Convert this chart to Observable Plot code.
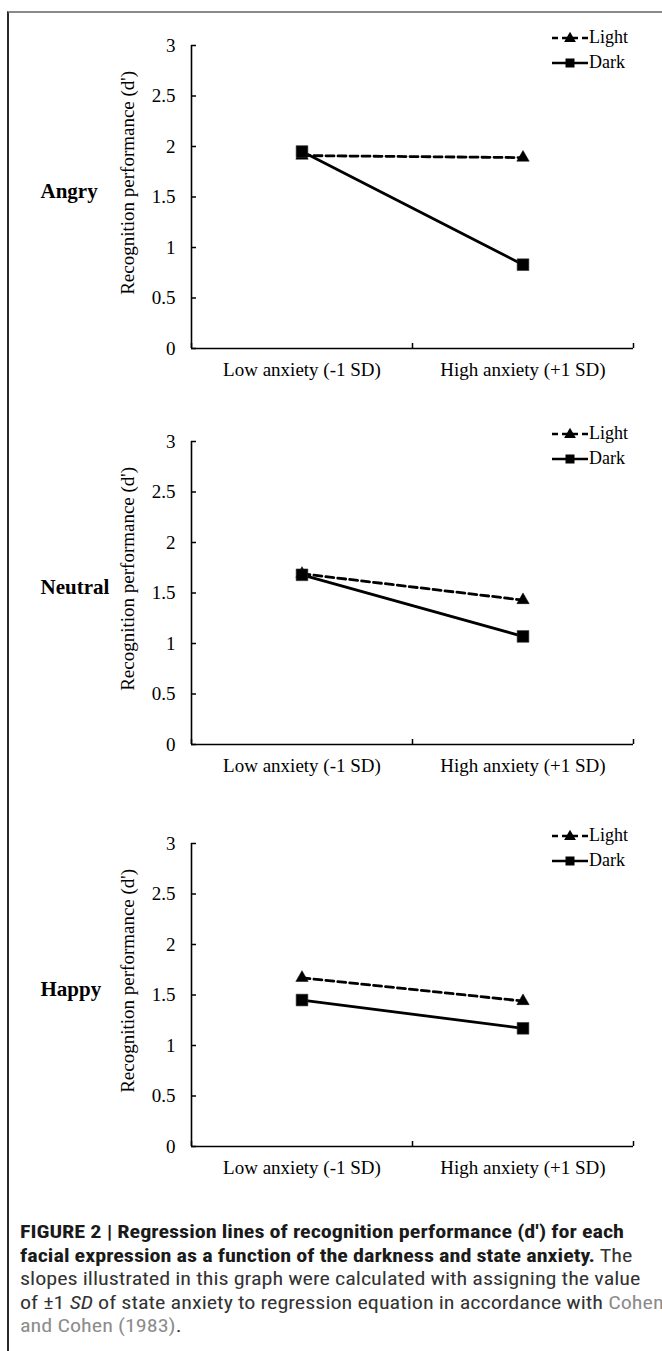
<!DOCTYPE html>
<html><head><meta charset="utf-8">
<script src="https://cdn.jsdelivr.net/npm/d3@7"></script>
<script src="https://cdn.jsdelivr.net/npm/@observablehq/plot@0.6"></script>
<style>
body{margin:0;background:#fff;width:662px;height:1351px;overflow:hidden;position:relative;}
#frame{position:absolute;left:7px;top:11px;width:700px;height:1400px;border-left:2px solid #2a2a2a;border-top:2px solid #8a8a8a;}
.panel{position:absolute;left:0;}
.legend{position:absolute;font-family:"Liberation Serif","Times New Roman",serif;font-size:18px;color:#000;}
.legend .row{display:flex;align-items:center;height:25px;}
#caption{position:absolute;left:20px;top:1220px;font-family:"Liberation Sans Narrow","Roboto Condensed","Arial Narrow",Roboto,"Liberation Sans",sans-serif;font-size:19px;line-height:23.5px;color:#333;white-space:nowrap;transform-origin:0 0;}
#caption b{color:#1a1a1a;}
#caption .ref{color:#8c8c8c;}
</style></head><body>
<div id="frame"></div>
<div id="root"></div>
<div id="caption">
<div id="cap1"><b>FIGURE 2 | Regression lines of recognition performance (d′) for each</b></div>
<div><b>facial expression as a function of the darkness and state anxiety.</b> The</div>
<div>slopes illustrated in this graph were calculated with assigning the value</div>
<div>of ±1 <i>SD</i> of state anxiety to regression equation in accordance with <span class="ref">Cohen</span></div>
<div><span class="ref">and Cohen (1983)</span>.</div>
</div>
<script>
// ---- data ----
const categories = ["Low anxiety (-1 SD)", "High anxiety (+1 SD)"];
const expressions = ["Angry", "Neutral", "Happy"];
const seriesNames = ["Light", "Dark"];
const lightValues = [[1.91, 1.89], [1.69, 1.43], [1.67, 1.44]];
const darkValues = [[1.95, 0.83], [1.68, 1.07], [1.45, 1.17]];
const yTicks = [0, 0.5, 1, 1.5, 2, 2.5, 3];
const yLabel = "Recognition performance (d')";

// ---- layout ----
const W = 662, H = 396, MT = 45, MB = 48, ML = 191, MR = 29;
const panelTops = [0, 396, 798];
const labelY = 1.56, titleY = 1.64;
const root = document.getElementById("root");

expressions.forEach((expr, i) => {
  const light = categories.map((c, j) => ({series: seriesNames[0], xi: j + 0.5, v: lightValues[i][j]}));
  const dark = categories.map((c, j) => ({series: seriesNames[1], xi: j + 0.5, v: darkValues[i][j]}));
  const plotH = H - MT - MB, plotW = W - ML - MR;
  const chart = Plot.plot({
    width: W, height: H, marginTop: MT, marginBottom: MB, marginLeft: ML, marginRight: MR,
    style: {fontFamily: "'Liberation Serif','Times New Roman',serif", fontSize: "19px", color: "#000", background: "transparent", overflow: "visible"},
    x: {type: "linear", domain: [0, categories.length]},
    y: {domain: [0, 3]},
    marks: [
      Plot.axisY({ticks: yTicks, tickFormat: d => String(d), tickSize: 0, tickPadding: 16, label: null, fontSize: 19}),
      Plot.axisX({ticks: categories.map((_, j) => j + 0.5), tickFormat: d => categories[Math.floor(d)], tickSize: 0, tickPadding: 14, label: null, fontSize: 19}),
      Plot.tickY(yTicks, {y: d => d, insetRight: plotW - 5, stroke: "#000", strokeWidth: 1.5}),
      Plot.tickX(d3.range(categories.length + 1), {x: d => d, insetTop: plotH - 5, stroke: "#000", strokeWidth: 1.5}),
      Plot.ruleX([0], {stroke: "#000", strokeWidth: 1.6}),
      Plot.ruleY([0], {stroke: "#000", strokeWidth: 1.6}),
      Plot.line(light, {x: "xi", y: "v", stroke: "#000", strokeWidth: 2.8, strokeDasharray: "8,4"}),
      Plot.line(dark, {x: "xi", y: "v", stroke: "#000", strokeWidth: 2.8}),
      Plot.dot(light, {x: "xi", y: "v", symbol: "triangle", r: 4.6, fill: "#000", stroke: "#000", strokeWidth: 0.5}),
      Plot.dot(dark, {x: "xi", y: "v", symbol: "square", r: 6.6, fill: "#000", stroke: "#333", strokeWidth: 0.6}),
      Plot.text([expr], {frameAnchor: "left", y: () => labelY, text: d => d, dx: -151, textAnchor: "start", fontWeight: "bold", fontSize: 21}),
      Plot.text([yLabel], {frameAnchor: "left", y: () => titleY, text: d => d, dx: -64, rotate: -90, textAnchor: "middle", fontSize: 19})
    ]
  });
  const div = document.createElement("div");
  div.className = "panel";
  div.style.top = panelTops[i] + "px";
  div.appendChild(chart);
  root.appendChild(div);

  // legend
  const lg = document.createElement("div");
  lg.className = "legend";
  lg.style.left = "552px";
  lg.style.top = (panelTops[i] + 25) + "px";
  seriesNames.forEach((name, k) => {
    const row = document.createElement("div");
    row.className = "row";
    const svg = d3.create("svg").attr("width", 37).attr("height", 14);
    svg.append("line").attr("x1", 0).attr("x2", 36).attr("y1", 7).attr("y2", 7)
      .attr("stroke", "#000").attr("stroke-width", 2.6).attr("stroke-dasharray", k === 0 ? "6,4" : null);
    if (k === 0) svg.append("path").attr("d", d3.symbol(d3.symbolTriangle, 60)()).attr("transform", "translate(18,7.5)").attr("fill", "#000");
    else svg.append("rect").attr("x", 13.5).attr("y", 2.5).attr("width", 9).attr("height", 9).attr("fill", "#000");
    row.appendChild(svg.node());
    const t = document.createElement("span");
    t.textContent = name;
    row.appendChild(t);
    lg.appendChild(row);
  });
  document.body.appendChild(lg);
});

// fit caption width to the reference's column
const cap = document.getElementById("caption");
const w1 = document.getElementById("cap1").firstElementChild.getBoundingClientRect().width;
cap.style.transform = `scaleX(${604 / w1})`;
</script>
</body></html>
